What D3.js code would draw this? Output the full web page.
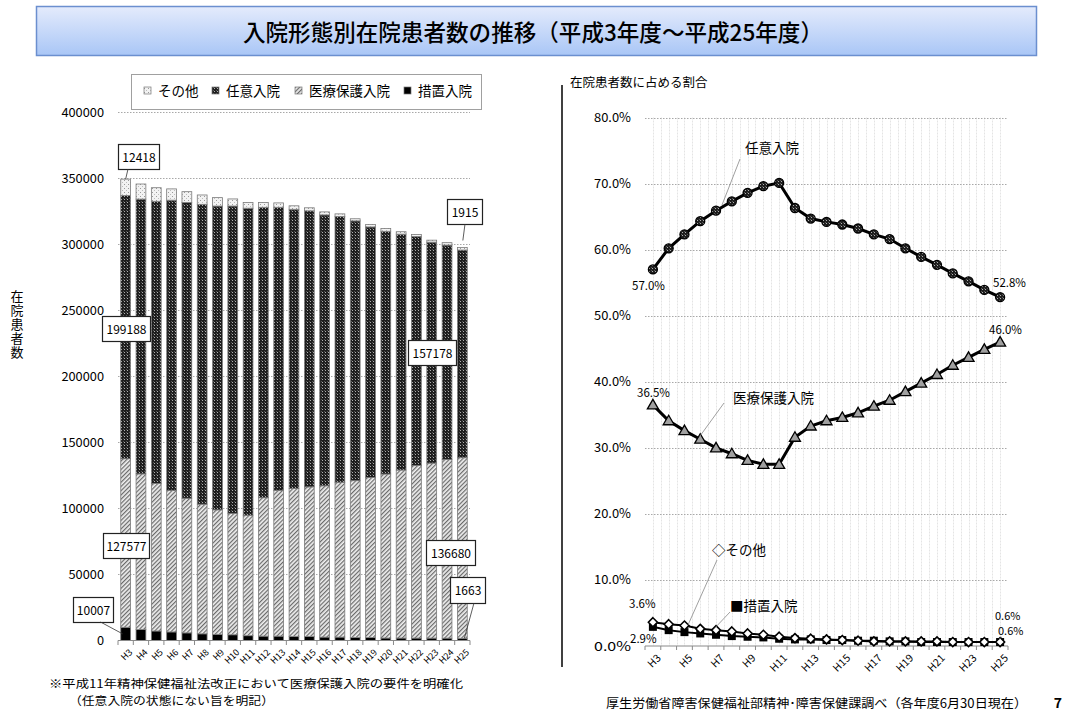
<!DOCTYPE html>
<html><head><meta charset="utf-8">
<script src="https://cdn.jsdelivr.net/npm/d3@7"></script>
<style>
html,body{margin:0;padding:0;background:#fff;}
svg text{font-family:"Noto Sans CJK JP","Noto Sans",sans-serif;fill:#000;}
</style></head>
<body><svg id="c" width="1070" height="716"></svg>
<script>
// ---------- DATA ----------
const years = ["H3","H4","H5","H6","H7","H8","H9","H10","H11","H12","H13","H14","H15","H16","H17","H18","H19","H20","H21","H22","H23","H24","H25"];
const sochi  = [10007, 8292, 7197, 6494, 5775, 5058, 4693, 4345, 3647, 3315, 3312, 2961, 2948, 2595, 2583, 2234, 2204, 1871, 1856, 1844, 1818, 1807, 1663];
const iryo   = [127577, 117816, 111720, 106983, 101910, 98125, 94191, 91905, 91163, 104754, 110290, 112189, 113315, 114513, 117213, 118742, 121237, 124136, 127163, 130603, 132411, 135194, 136680];
const nini   = [199188, 207991, 213502, 219777, 223862, 226936, 229947, 232603, 232382, 219785, 214286, 211218, 208945, 205021, 201167, 196627, 189570, 183709, 178524, 173317, 167256, 162293, 157178];
const sonota = [12418, 11402, 10281, 8545, 8153, 7081, 6369, 5347, 4310, 3647, 3312, 2632, 2293, 2271, 1937, 1596, 1889, 2183, 1856, 1537, 1515, 1807, 1915];
const niniPct   = [57.0, 60.2, 62.3, 64.3, 65.9, 67.3, 68.6, 69.6, 70.1, 66.3, 64.7, 64.2, 63.8, 63.2, 62.3, 61.6, 60.2, 58.9, 57.7, 56.4, 55.2, 53.9, 52.8];
const iryoPct   = [36.5, 34.1, 32.6, 31.3, 30.0, 29.1, 28.1, 27.5, 27.5, 31.6, 33.3, 34.1, 34.6, 35.3, 36.3, 37.2, 38.5, 39.8, 41.1, 42.5, 43.7, 44.9, 46.0];
const sochiPct  = [2.9, 2.4, 2.1, 1.9, 1.7, 1.5, 1.4, 1.3, 1.1, 1.0, 1.0, 0.9, 0.9, 0.8, 0.8, 0.7, 0.7, 0.6, 0.6, 0.6, 0.6, 0.6, 0.6];
const sonotaPct = [3.6, 3.3, 3.1, 2.6, 2.4, 2.2, 1.9, 1.7, 1.4, 1.2, 1.1, 1.0, 0.9, 0.8, 0.7, 0.7, 0.7, 0.7, 0.7, 0.6, 0.6, 0.6, 0.6];
const leftTicks = [0, 50000, 100000, 150000, 200000, 250000, 300000, 350000, 400000];
const rightTicks = [0, 10, 20, 30, 40, 50, 60, 70, 80];
const seriesNames = ["その他","任意入院","医療保護入院","措置入院"];
const titleText = "入院形態別在院患者数の推移（平成3年度～平成25年度）";

// ---------- SETUP ----------
const svg = d3.select("#c");
const defs = svg.append("defs");
const pN = defs.append("pattern").attr("id","pNini").attr("patternUnits","userSpaceOnUse").attr("width",3).attr("height",3);
pN.append("rect").attr("width",3).attr("height",3).attr("fill","#1e1e1e");
pN.append("rect").attr("x",1).attr("y",1).attr("width",1).attr("height",1).attr("fill","#b0b0b0");
pN.append("rect").attr("x",0).attr("y",0).attr("width",1).attr("height",1).attr("fill","#555");
const pI = defs.append("pattern").attr("id","pIryo").attr("patternUnits","userSpaceOnUse").attr("width",3).attr("height",3).attr("patternTransform","rotate(45)");
pI.append("rect").attr("width",3).attr("height",3).attr("fill","#eeeeee");
pI.append("rect").attr("width",1.2).attr("height",3).attr("fill","#6a6a6a");
const pS = defs.append("pattern").attr("id","pSonota").attr("patternUnits","userSpaceOnUse").attr("width",4).attr("height",4);
pS.append("rect").attr("width",4).attr("height",4).attr("fill","#f2f2f2");
pS.append("rect").attr("x",0).attr("y",0).attr("width",1).attr("height",1).attr("fill","#9a9a9a");
pS.append("rect").attr("x",2).attr("y",2).attr("width",1).attr("height",1).attr("fill","#bdbdbd");
const grad = defs.append("linearGradient").attr("id","tg").attr("x1",0).attr("y1",0).attr("x2",0).attr("y2",1);
grad.append("stop").attr("offset","0%").attr("stop-color","#e4ebfc");
grad.append("stop").attr("offset","100%").attr("stop-color","#a9c6f6");

// ---------- TITLE ----------
svg.append("rect").attr("x",36.5).attr("y",6.5).attr("width",1000).attr("height",49)
  .attr("fill","url(#tg)").attr("stroke","#6b8fcf").attr("stroke-width",1.5);
svg.append("text").attr("x",533).attr("y",41).attr("text-anchor","middle")
  .attr("font-size",23).attr("font-weight",500).attr("textLength",580).attr("lengthAdjust","spacingAndGlyphs")
  .text(titleText);

// ---------- LEFT CHART ----------
const xL = d3.scaleBand().domain(years).range([118,470]).paddingInner(0.36).paddingOuter(0.18);
const yL = d3.scaleLinear().domain([0,400000]).range([640.5,112]);
const gL = svg.append("g");
gL.selectAll("line.gl").data(leftTicks.filter(d=>d>0)).join("line")
  .attr("x1",118).attr("x2",470).attr("y1",d=>Math.round(yL(d))+0.5).attr("y2",d=>Math.round(yL(d))+0.5)
  .attr("stroke","#a8a8a8").attr("stroke-dasharray","1.5,1.5");
gL.selectAll("text.yl").data(leftTicks).join("text")
  .attr("x",104).attr("y",d=>yL(d)+4.5).attr("text-anchor","end").attr("font-size",12.5)
  .attr("font-family","DejaVu Sans").attr("textLength",d=>String(d).length*7.1).attr("lengthAdjust","spacingAndGlyphs")
  .text(d=>d);
const rows = years.map((y,i)=>({year:y, sochi:sochi[i], iryo:iryo[i], nini:nini[i], sonota:sonota[i]}));
const stack = d3.stack().keys(["sochi","iryo","nini","sonota"]);
const fills = {sochi:"#000", iryo:"url(#pIryo)", nini:"url(#pNini)", sonota:"url(#pSonota)"};
const layers = stack(rows);
gL.selectAll("g.layer").data(layers).join("g")
  .attr("fill",d=>fills[d.key]).attr("stroke","#7a7a7a").attr("stroke-width",0.8)
  .selectAll("rect").data(d=>d).join("rect")
  .attr("x",d=>xL(d.data.year)).attr("width",xL.bandwidth())
  .attr("y",d=>yL(d[1])).attr("height",d=>yL(d[0])-yL(d[1]));
const axL = gL.append("g").attr("transform","translate(0,640.5)")
  .call(d3.axisBottom(xL).tickSize(0).tickFormat(d=>d));
axL.select(".domain").attr("stroke","#8a8a8a").attr("d","M118,0H470");
axL.selectAll("text").attr("font-size",9).attr("font-family","DejaVu Sans").attr("fill","#000")
  .attr("text-anchor","end").attr("transform","translate(3,8) rotate(-45)").attr("dy","0.35em").attr("dx","0");
gL.selectAll("line.tk").data(d3.range(years.length+1)).join("line")
  .attr("x1",i=>118+i*xL.step()).attr("x2",i=>118+i*xL.step()).attr("y1",640.5).attr("y2",645)
  .attr("stroke","#8a8a8a");
// legend
svg.append("rect").attr("x",131.5).attr("y",74.5).attr("width",350).attr("height",35).attr("fill","#fff").attr("stroke","#a0a0a0");
const legX = [144,212,295,404];
const legFill = ["url(#pSonota)","url(#pNini)","url(#pIryo)","#000"];
seriesNames.forEach((n,i)=>{
  svg.append("rect").attr("x",legX[i]).attr("y",87).attr("width",7).attr("height",7).attr("fill",legFill[i]).attr("stroke","#777").attr("stroke-width",0.7);
  svg.append("text").attr("x",legX[i]+14).attr("y",96).attr("font-size",13.5).text(n);
});
function box(x,y,w,h,t){
  svg.append("rect").attr("x",x+0.5).attr("y",y+0.5).attr("width",w).attr("height",h).attr("fill","#fff").attr("stroke","#222").attr("stroke-width",1.2);
  svg.append("text").attr("x",x+w/2+0.5).attr("y",y+h/2+5).attr("text-anchor","middle").attr("font-size",12).attr("font-family","DejaVu Sans").text(t);
}
function lead(x1,y1,x2,y2,c){svg.append("line").attr("x1",x1).attr("y1",y1).attr("x2",x2).attr("y2",y2).attr("stroke",c||"#333").attr("stroke-width",0.8);}
const lastI = years.length-1;
const cx0 = xL(years[0])+xL.bandwidth()/2, cxN = xL(years[lastI])+xL.bandwidth()/2;
box(118,144,41,25,sonota[0]); lead(128,169,cx0,yL(sochi[0]+iryo[0]+nini[0]+sonota[0]));
box(447,199,35,25,sonota[lastI]); lead(465,224,cxN+0.5,yL(sochi[lastI]+iryo[lastI]+nini[lastI]+sonota[lastI])-7);
box(102,316,48,25,nini[0]);
box(408,340,48,25,nini[lastI]);
box(103,533,46,25,iryo[0]);
box(426,540,49,25,iryo[lastI]);
box(73,597,40,25,sochi[0]); lead(100.5,622,cx0-3,yL(sochi[0]/2));
box(450,577,35,26,sochi[lastI]); lead(474,603,cxN+2,yL(sochi[lastI]));
svg.append("text").attr("x",17).attr("y",290).attr("font-size",13).attr("writing-mode","tb")
  .attr("letter-spacing",1).text("在院患者数");

svg.append("line").attr("x1",562).attr("x2",562).attr("y1",85).attr("y2",667).attr("stroke","#000").attr("stroke-width",1.5);

// ---------- RIGHT CHART ----------
const xR = d3.scaleBand().domain(years).range([645,1008]);
const yR = d3.scaleLinear().domain([0,80]).range([646,117.5]);
const gR = svg.append("g");
gR.selectAll("line.vg").data(d3.range(1,years.length*2)).join("line")
  .attr("x1",i=>Math.round(645+i*xR.step()/2)+0.5).attr("x2",i=>Math.round(645+i*xR.step()/2)+0.5)
  .attr("y1",117.5).attr("y2",646).attr("stroke","#e4e4e4").attr("stroke-dasharray","2,1");
gR.selectAll("line.hg").data(rightTicks.filter(d=>d>0)).join("line")
  .attr("x1",645).attr("x2",1008).attr("y1",d=>Math.round(yR(d))+0.5).attr("y2",d=>Math.round(yR(d))+0.5)
  .attr("stroke","#a8a8a8").attr("stroke-dasharray","1.5,1.5");
gR.selectAll("text.yl").data(rightTicks).join("text")
  .attr("x",631).attr("y",d=>yR(d)+4.5).attr("text-anchor","end").attr("font-size",12.5).attr("font-family","DejaVu Sans")
  .attr("textLength",37).attr("lengthAdjust","spacingAndGlyphs")
  .text(d=>d.toFixed(1)+"%");
const axR = gR.append("g").attr("transform","translate(0,646)")
  .call(d3.axisBottom(xR).tickSize(0).tickValues(years.filter((d,i)=>i%2===0)));
axR.select(".domain").attr("stroke","#8a8a8a").attr("d","M645,0H1008");
axR.selectAll("text").attr("font-size",10.5).attr("font-family","DejaVu Sans").attr("fill","#000")
  .attr("text-anchor","end").attr("transform","translate(4,8) rotate(-45)").attr("dy","0.35em");
gR.selectAll("line.tk").data(d3.range(years.length+1)).join("line")
  .attr("x1",i=>645+i*xR.step()).attr("x2",i=>645+i*xR.step()).attr("y1",646).attr("y2",650).attr("stroke","#8a8a8a");
svg.append("text").attr("x",570).attr("y",87).attr("font-size",12.5).text("在院患者数に占める割合");

const cx = y => xR(y)+xR.bandwidth()/2;
const line = arr => d3.line().x((d,i)=>cx(years[i])).y(d=>yR(d))(arr);
gR.append("path").attr("d",line(sochiPct)).attr("fill","none").attr("stroke","#000").attr("stroke-width",2);
gR.append("path").attr("d",line(sonotaPct)).attr("fill","none").attr("stroke","#000").attr("stroke-width",2);
gR.append("path").attr("d",line(iryoPct)).attr("fill","none").attr("stroke","#000").attr("stroke-width",3);
gR.append("path").attr("d",line(niniPct)).attr("fill","none").attr("stroke","#000").attr("stroke-width",3);
gR.selectAll("rect.sq").data(sochiPct).join("rect")
  .attr("x",(d,i)=>cx(years[i])-4).attr("y",d=>yR(d)-4).attr("width",8).attr("height",8).attr("fill","#000");
gR.selectAll("path.dm").data(sonotaPct).join("path")
  .attr("d",(d,i)=>{const x=cx(years[i]),y=yR(d);return `M${x},${y-4.5}L${x+4.5},${y}L${x},${y+4.5}L${x-4.5},${y}Z`;})
  .attr("fill","#fff").attr("stroke","#000").attr("stroke-width",1.6);
gR.selectAll("path.tr").data(iryoPct).join("path")
  .attr("d",(d,i)=>{const x=cx(years[i]),y=yR(d);return `M${x},${y-5.5}L${x+5.5},${y+4}L${x-5.5},${y+4}Z`;})
  .attr("fill","#a0a0a0").attr("stroke","#000").attr("stroke-width",1.3);
gR.selectAll("circle.ci").data(niniPct).join("circle")
  .attr("cx",(d,i)=>cx(years[i])).attr("cy",d=>yR(d)).attr("r",4.5)
  .attr("fill","url(#pNini)").attr("stroke","#000").attr("stroke-width",1.3);
function txt(x,y,t,fs,anchor,tl){const e=svg.append("text").attr("x",x).attr("y",y).attr("font-size",fs||11.5).attr("font-family",fs?null:"DejaVu Sans").attr("text-anchor",anchor||"start").text(t);
  if(tl) e.attr("textLength",tl).attr("lengthAdjust","spacingAndGlyphs"); return e;}
const pf = v => v.toFixed(1)+"%";
txt(632,290,pf(niniPct[0])); txt(993,287,pf(niniPct[lastI]));
txt(989,334,pf(iryoPct[lastI])); txt(637,397,pf(iryoPct[0]));
txt(629,608,pf(sonotaPct[0])); txt(630,643,pf(sochiPct[0]));
svg.append("text").attr("x",995).attr("y",620).attr("font-size",11).attr("font-family","DejaVu Sans").text(pf(sonotaPct[lastI]));
svg.append("text").attr("x",998).attr("y",635).attr("font-size",11).attr("font-family","DejaVu Sans").text(pf(sochiPct[lastI]));
lead(1002,637,cx(years[lastI])-1,yR(sochiPct[lastI])-3,"#666");
txt(745,153,"任意入院",13.5); lead(740,159,722,205,"#888");
txt(733,403,"医療保護入院",13.5); lead(724,403,700,436,"#888");
txt(712,555,"◇その他",13.5); lead(717,560,688,625,"#888");
txt(730,611,"■措置入院",13.5); lead(730,612,713,630,"#888");

// ---------- FOOTNOTES ----------
txt(49,688,"※平成11年精神保健福祉法改正において医療保護入院の要件を明確化",11.5,"start",414);
txt(69,705,"（任意入院の状態にない旨を明記）",11.5,"start",205);
txt(606,708,"厚生労働省障害保健福祉部精神･障害保健課調べ（各年度6月30日現在）",12.5,"start",421);
svg.append("text").attr("x",1058).attr("y",708).attr("text-anchor","middle").attr("font-size",14).attr("font-weight","bold").text("7");
</script></body></html>
